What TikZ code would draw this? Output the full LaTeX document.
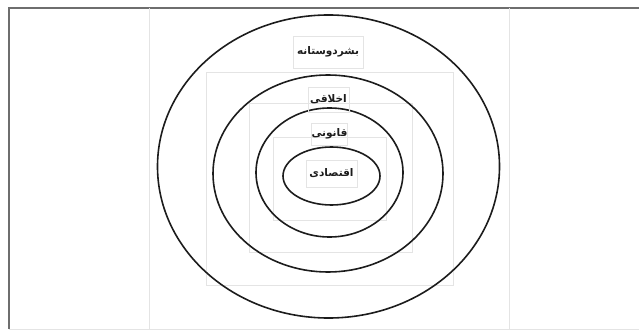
\documentclass[tikz,border=0pt]{standalone}
\usepackage{fontspec}
\usetikzlibrary{shapes.geometric}
\newfontfamily\farsifont[Script=Arabic,BoldFont={DejaVu Sans Bold}]{DejaVu Sans}
\TeXXeTstate=1
\definecolor{ink}{HTML}{1C1C1C}
\definecolor{frameL}{HTML}{6E6E6E}
\definecolor{gline}{HTML}{E4E4E4}
\tikzset{
  ring/.style ={ellipse, draw=ink, line width=1.6pt, inner sep=0pt},
  lbl/.style  ={font=\farsifont\bfseries\fontsize{10.5}{12}\selectfont, text=ink,
                draw=gline, line width=0.6pt, inner sep=0pt, align=center},
  frm/.style  ={draw=frameL, line width=1.6pt},
  cellbox/.style={draw=gline, line width=0.6pt},
}

\begin{document}
\begin{tikzpicture}[x=1pt,y=-1pt]
\useasboundingbox (0,0) rectangle (639,331);

% ---------------- page frame and table cell ----------------------------------
\draw[frm] (9,329) -- (9,8) -- (639,8);
\draw[cellbox] (9,329) -- (639,329);
\draw[cellbox] (149,8) -- (149,329);
\draw[cellbox] (509,8) -- (509,329);

% faint text-box outlines left over from the source document
\draw[cellbox] (206,72) rectangle (453,285);
\draw[cellbox] (249,103) rectangle (412,252);
\draw[cellbox] (273,137) rectangle (386,220);

% ---------------- nested rings -----------------------------------------------
\node[ring, minimum width=342pt, minimum height=303pt] (outer) at (328.5,166.5) {};
\node[ring, minimum width=230pt, minimum height=197pt] (moral) at (328,173.5) {};
\node[ring, minimum width=147pt, minimum height=129pt] (legal) at (329.5,172.5) {};
\node[ring, minimum width=97pt,  minimum height=58pt]  (econ)  at (331.5,176) {};

% ---------------- labels -----------------------------------------------------
\node[lbl, minimum width=70pt, minimum height=32pt] (tphil) at (328,52)
  {\beginR بشردوستانه\endR};
\node[lbl, minimum width=41pt, minimum height=25pt] (tmoral) at (328.5,99.5)
  {\beginR اخلاقی\endR};
\node[lbl, minimum width=35pt, minimum height=22pt] (tlegal) at (329.5,134)
  {\beginR قانونی\endR};
\node[lbl, minimum width=51pt, minimum height=27pt] (tecon) at (331.5,173.5)
  {\beginR اقتصادی\endR};

\end{tikzpicture}
\end{document}
